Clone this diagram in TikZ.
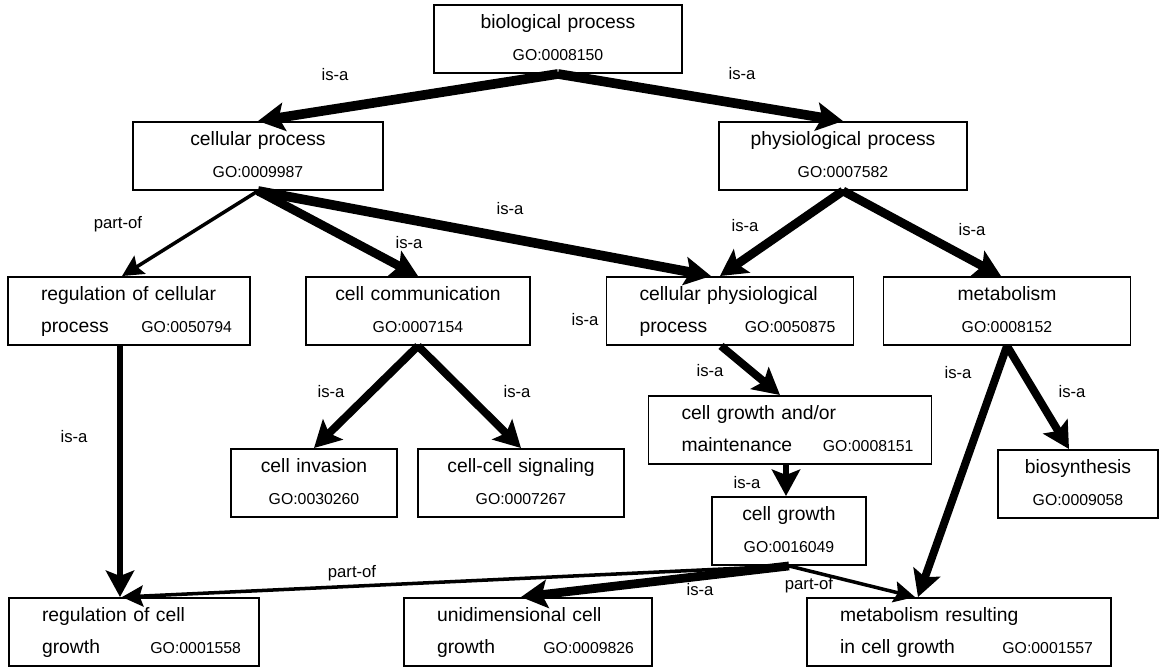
\documentclass[tikz,border=0pt]{standalone}
\usepackage{fontspec}
\setmainfont{Liberation Sans}
\usetikzlibrary{arrows.meta,calc}

\newcommand{\gofont}{\fontsize{9}{18}\selectfont}
\newcommand{\goid}[1]{{\gofont GO:#1}}
\newcommand{\gotwo}[3]{\hspace*{0.3cm}#1\\\hspace*{0.3cm}#2\hfill\goid{#3}}

\tikzset{
  gobox/.style={draw, line width=1.1pt, inner sep=0pt, align=center,
    text width=#1, text height=0.48cm, text depth=0.88cm,
    font=\fontsize{11}{18}\selectfont},
  gowide/.style={gobox=#1, inner xsep=0.36cm, align=left},
  isa/.style={-{Stealth[length=15pt,width=16pt,inset=3pt]}, line width=#1},
  partof/.style={-{Stealth[length=12pt,width=12pt,inset=2pt]}, line width=2pt},
  lbl/.style={font=\fontsize{9.5}{11}\selectfont, inner sep=0pt}
}

\begin{document}
\begin{tikzpicture}[x=0.02cm, y=-0.02cm]
  \useasboundingbox (0,0) rectangle (1161,671);

  % terms
  \node[gobox=4.96cm] (bio) at (558,39) {biological process\\\goid{0008150}};
  \node[gobox=5cm] (cellular) at (258,156) {cellular process\\\goid{0009987}};
  \node[gobox=4.96cm] (physio) at (843,156) {physiological process\\\goid{0007582}};
  \node[gowide=4.12cm] (regcell) at (129,311) {\gotwo{regulation of cellular}{process}{0050794}};
  \node[gobox=4.48cm] (cellcomm) at (418,311) {cell communication\\\goid{0007154}};
  \node[gowide=4.22cm] (cellphys) at (730,311) {\gotwo{cellular physiological}{process}{0050875}};
  \node[gobox=4.94cm] (metab) at (1007,311) {metabolism\\\goid{0008152}};
  \node[gowide=4.94cm] (cgm) at (790,430) {\gotwo{cell growth and/or}{maintenance}{0008151}};
  \node[gobox=3.32cm] (invasion) at (314,483) {cell invasion\\\goid{0030260}};
  \node[gobox=4.12cm] (cellcell) at (521,483) {cell-cell signaling\\\goid{0007267}};
  \node[gobox=3.2cm] (biosynth) at (1078,484) {biosynthesis\\\goid{0009058}};
  \node[gobox=3.08cm] (cellgrowth) at (789,531) {cell growth\\\goid{0016049}};
  \node[gowide=4.28cm] (regcellgrowth) at (134,632) {\gotwo{regulation of cell}{growth}{0001558}};
  \node[gowide=4.24cm] (unidim) at (528,632) {\gotwo{unidimensional cell}{growth}{0009826}};
  \node[gowide=5.36cm] (metabres) at (959,632) {\gotwo{metabolism resulting}{in cell growth}{0001557}};

  % relations
  \draw[isa=5.5pt] (bio.south) -- (cellular.north);
  \draw[isa=5.5pt] (bio.south) -- (physio.north);
  \draw[partof] (cellular.south) -- ($(regcell.north)+(-7,0)$);
  \draw[isa=5pt] (cellular.south) -- (cellcomm.north);
  \draw[isa=5.5pt] (cellular.south) -- ($(cellphys.north)+(-19,0)$);
  \draw[isa=5pt] (physio.south) -- ($(cellphys.north)+(-10,0)$);
  \draw[isa=5pt] (physio.south) -- ($(metab.north)+(-6,0)$);
  \draw[isa=4.5pt] (cellcomm.south) -- (invasion.north);
  \draw[isa=4.5pt] (cellcomm.south) -- (cellcell.north);
  \draw[isa=3.8pt] ($(regcell.south)+(-9,0)$) -- ($(regcellgrowth.north)+(-14,0)$);
  \draw[isa=4.5pt] ($(cellphys.south)+(-9,0)$) -- ($(cgm.north)+(-10,0)$);
  \draw[isa=3.5pt] ($(cgm.south)+(-4,0)$) -- ($(cellgrowth.north)+(-3,0)$);
  \draw[isa=4.5pt] (metab.south) -- ($(biosynth.north)+(-9,0)$);
  \draw[isa=4.5pt] (metab.south) -- ($(metabres.north)+(-41,0)$);
  \draw[partof] (cellgrowth.south) -- ($(regcellgrowth.north)+(-12,0)$);
  \draw[isa=5pt] (cellgrowth.south) -- ($(unidim.north)+(-7,0)$);
  \draw[partof] (cellgrowth.south) -- ($(metabres.north)+(-44,0)$);

  % labels
  \node[lbl] (lbl-bc) at (335,75) {is-a};
  \node[lbl] (lbl-bp) at (742,74) {is-a};
  \node[lbl] (lbl-crc) at (118,224) {part-of};
  \node[lbl] (lbl-ccc) at (409,243) {is-a};
  \node[lbl] (lbl-ccp) at (510,209) {is-a};
  \node[lbl] (lbl-pcp) at (745,226) {is-a};
  \node[lbl] (lbl-pm) at (972,230) {is-a};
  \node[lbl] (lbl-cp) at (585,320) {is-a};
  \node[lbl] (lbl-ci) at (331,392) {is-a};
  \node[lbl] (lbl-cs) at (517,392) {is-a};
  \node[lbl] (lbl-rr) at (74,437) {is-a};
  \node[lbl] (lbl-pg) at (710,371) {is-a};
  \node[lbl] (lbl-gg) at (747,483) {is-a};
  \node[lbl] (lbl-mb) at (1072,392) {is-a};
  \node[lbl] (lbl-mr) at (958,373) {is-a};
  \node[lbl] (lbl-gr) at (352,573) {part-of};
  \node[lbl] (lbl-gu) at (700,590) {is-a};
  \node[lbl] (lbl-gm) at (809,585) {part-of};
\end{tikzpicture}
\end{document}
